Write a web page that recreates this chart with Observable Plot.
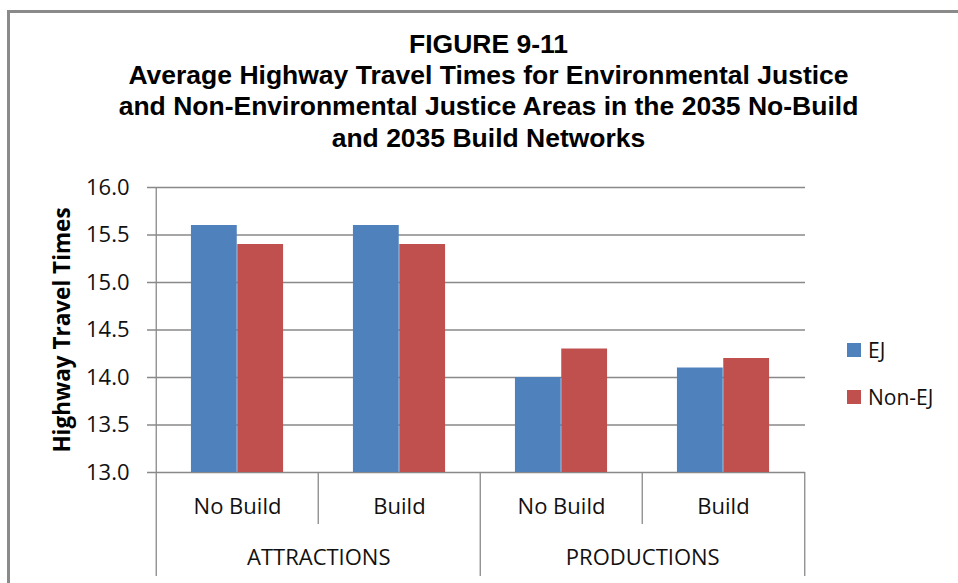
<!DOCTYPE html>
<html>
<head>
<meta charset="utf-8">
<script src="https://cdn.jsdelivr.net/npm/d3@7"></script>
<script src="https://cdn.jsdelivr.net/npm/@observablehq/plot@0.6"></script>
<style>
  html, body { margin: 0; padding: 0; background: #fff; overflow: hidden; }
  #wrap { position: relative; width: 958px; height: 583px; overflow: hidden; background: #fff; }
  #border { position: absolute; left: 7px; top: 10px; width: 1000px; height: 1000px; border: 3px solid #8a8a8a; box-sizing: border-box; }
  #chart { position: absolute; left: 0; top: 0; }
  .legend { position: absolute; left: 847px; font-family: "Open Sans", sans-serif; font-size: 21px; color: #111; display: flex; align-items: center; height: 24px; }
  .legend .sw { width: 14px; height: 14px; margin-right: 7px; display: inline-block; }
</style>
</head>
<body>
<div id="wrap">
  <div id="border"></div>
  <div id="chart"></div>
</div>
<script>
// ---- data ----
const titleLines = [
  "FIGURE 9-11",
  "Average Highway Travel Times for Environmental Justice",
  "and Non-Environmental Justice Areas in the 2035 No-Build",
  "and 2035 Build Networks"
];
const yAxisLabel = "Highway Travel Times";
const groups = ["ATTRACTIONS", "ATTRACTIONS", "PRODUCTIONS", "PRODUCTIONS"];
const scenarios = ["No Build", "Build", "No Build", "Build"];
const seriesNames = ["EJ", "Non-EJ"];
const ejValues = [15.6, 15.6, 14.0, 14.1];
const nonEjValues = [15.4, 15.4, 14.3, 14.2];
const yTicks = [13.0, 13.5, 14.0, 14.5, 15.0, 15.5, 16.0];
const colors = ["#4F81BD", "#C0504D"];

// ---- layout ----
const W = 958, H = 583;
const mt = 187, mb = 111, ml = 155, mr = 153;
const frameH = H - mt - mb;
const gridColor = "#898989";

const keys = scenarios.map((s, i) => groups[i] + " | " + s);
const data = keys.map((k, i) => ({ key: k, group: groups[i], scenario: scenarios[i], ej: ejValues[i], nonej: nonEjValues[i] }));
const bw = (W - ml - mr) / keys.length;
const outer = bw * 0.215;
const barW = (bw - 2 * outer) / 2;
const yMin = yTicks[0];

const firstOfGroup = data.filter((d, i) => i === 0 || groups[i] !== groups[i - 1]);
const majorLeft = firstOfGroup.slice(1).map(d => d.key);
const minorLeft = data.filter((d, i) => i > 0 && groups[i] === groups[i - 1]).map(d => d.key);

const chart = Plot.plot({
  width: W,
  height: H,
  marginTop: mt,
  marginBottom: mb,
  marginLeft: ml,
  marginRight: mr,
  style: { fontFamily: "'Open Sans', sans-serif", fontSize: "22px", color: "#111", background: "transparent", overflow: "visible" },
  x: { type: "band", domain: keys, padding: 0, axis: null },
  y: { domain: [yTicks[0], yTicks[yTicks.length - 1]] },
  marks: [
    Plot.gridY(yTicks, { stroke: gridColor, strokeOpacity: 1, strokeWidth: 1.3, insetLeft: -8 }),
    Plot.axisY(yTicks, { tickSize: 0, tickPadding: 26, tickFormat: d3.format(".1f"), fontSize: 22, label: null }),
    Plot.barY(data, { x: "key", y1: yMin, y2: "ej", fill: colors[0], insetLeft: outer, insetRight: outer + barW }),
    Plot.barY(data, { x: "key", y1: yMin, y2: "nonej", fill: colors[1], insetLeft: outer + barW, insetRight: outer }),
    // left axis line (extends to bottom of category labels)
    Plot.ruleX([keys[0]], { dx: -bw / 2, stroke: gridColor, strokeWidth: 1.3, insetBottom: -104 }),
    // group separators
    Plot.ruleX(majorLeft, { dx: -bw / 2, stroke: gridColor, strokeWidth: 1.3, insetTop: frameH, insetBottom: -104 }),
    Plot.ruleX([keys[keys.length - 1]], { dx: bw / 2, stroke: gridColor, strokeWidth: 1.3, insetTop: frameH, insetBottom: -104 }),
    // sub-category separators
    Plot.ruleX(minorLeft, { dx: -bw / 2, stroke: gridColor, strokeWidth: 1.3, insetTop: frameH, insetBottom: -52 }),
    // category labels
    Plot.text(data, { x: "key", text: "scenario", frameAnchor: "bottom", lineAnchor: "middle", dy: 34, fontSize: 22, fill: "#111" }),
    Plot.text(firstOfGroup, { x: "key", text: "group", frameAnchor: "bottom", lineAnchor: "middle", dx: bw / 2, dy: 85, fontSize: 22, fill: "#111" }),
    // y axis title
    Plot.text([yAxisLabel], { frameAnchor: "left", textAnchor: "middle", lineAnchor: "middle", dx: -93, rotate: -90, fontWeight: "bold", fontSize: 22.5, fill: "#000" }),
    // chart title
    Plot.text([titleLines.join("\n")], { frameAnchor: "top", textAnchor: "middle", lineAnchor: "top", dx: 8, dy: -157, lineHeight: 1.18, fontFamily: "'Liberation Sans', Arial, sans-serif", fontWeight: "bold", fontSize: 26.5, fill: "#000" })
  ]
});
document.getElementById("chart").appendChild(chart);

// legend (HTML)
const wrap = document.getElementById("wrap");
seriesNames.forEach((name, i) => {
  const item = document.createElement("div");
  item.className = "legend";
  item.style.top = (338 + i * 47) + "px";
  const sw = document.createElement("span");
  sw.className = "sw";
  sw.style.background = colors[i];
  item.appendChild(sw);
  item.appendChild(document.createTextNode(name));
  wrap.appendChild(item);
});
</script>
</body>
</html>
